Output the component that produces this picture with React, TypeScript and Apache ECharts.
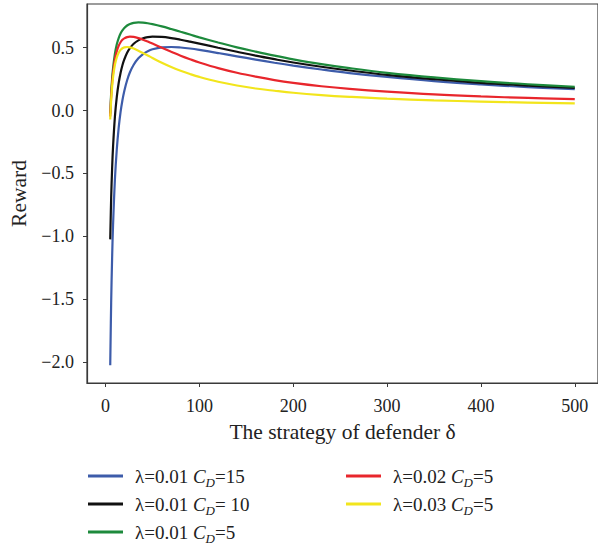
import React, { useEffect, useRef } from 'react';
import * as echarts from 'echarts';

const FONT = '"Liberation Serif", "Times New Roman", serif';
const TXT = '#222222';
const AX = '#3a3a3a';

// strategy of defender (x values)
const deltas = [5, 6, 7, 8, 10, 12, 14, 16, 18, 20, 23, 26, 30, 35, 40, 45, 50, 60, 70, 80, 90, 100, 120, 140, 160, 180, 200, 230, 260, 300, 350, 400, 450, 500];

// reward values
const blueL001CD15 = [-2.025, -1.529, -1.177, -0.914, -0.548, -0.308, -0.138, -0.013, 0.082, 0.156, 0.241, 0.304, 0.364, 0.415, 0.449, 0.472, 0.487, 0.502, 0.505, 0.501, 0.493, 0.482, 0.457, 0.431, 0.405, 0.38, 0.357, 0.326, 0.298, 0.267, 0.234, 0.208, 0.186, 0.169];
const blackL001CD10 = [-1.025, -0.696, -0.463, -0.289, -0.048, 0.109, 0.219, 0.299, 0.36, 0.406, 0.459, 0.496, 0.531, 0.558, 0.574, 0.583, 0.587, 0.585, 0.576, 0.563, 0.548, 0.532, 0.499, 0.467, 0.436, 0.408, 0.382, 0.348, 0.318, 0.283, 0.249, 0.22, 0.198, 0.179];
const greenL001CD5 = [-0.025, 0.137, 0.252, 0.336, 0.452, 0.526, 0.576, 0.612, 0.637, 0.656, 0.676, 0.688, 0.697, 0.701, 0.699, 0.694, 0.687, 0.669, 0.648, 0.626, 0.604, 0.582, 0.541, 0.502, 0.468, 0.436, 0.407, 0.369, 0.337, 0.3, 0.263, 0.233, 0.209, 0.189];
const redL002CD5 = [-0.048, 0.109, 0.219, 0.299, 0.406, 0.472, 0.515, 0.543, 0.562, 0.574, 0.584, 0.587, 0.585, 0.576, 0.563, 0.548, 0.532, 0.499, 0.467, 0.436, 0.408, 0.382, 0.337, 0.3, 0.269, 0.242, 0.22, 0.193, 0.172, 0.15, 0.128, 0.112, 0.1, 0.09];
const yellowL003CD5 = [-0.071, 0.082, 0.188, 0.264, 0.364, 0.423, 0.459, 0.482, 0.495, 0.502, 0.505, 0.502, 0.493, 0.476, 0.457, 0.438, 0.418, 0.38, 0.346, 0.316, 0.29, 0.267, 0.229, 0.199, 0.175, 0.157, 0.141, 0.123, 0.109, 0.094, 0.081, 0.071, 0.063, 0.057];

const lambdaLabels = ['0.01', '0.01', '0.01', '0.02', '0.03'];
const cdLabels = ['15', ' 10', '5', '5', '5'];
const seriesColors = ['#3d5caa', '#111111', '#1d8a3c', '#e8262c', '#f2e51c'];
const seriesValues = [blueL001CD15, blackL001CD10, greenL001CD5, redL002CD5, yellowL003CD5];

const xTicks = [0, 100, 200, 300, 400, 500];
const yTicks = [-2.0, -1.5, -1.0, -0.5, 0.0, 0.5];

const seriesNames = lambdaLabels.map((l, i) => `λ=${l} C_D=${cdLabels[i]}`);

export default function App() {
  const ref = useRef<HTMLDivElement>(null);
  useEffect(() => {
    const chart = echarts.init(ref.current!, null, { renderer: 'svg' });
    const rich = {
      a0: { fontFamily: FONT, fontSize: 19, color: TXT, lineHeight: 24, padding: [0, 0, 0, 7] },
      a: { fontFamily: FONT, fontSize: 19, color: TXT, lineHeight: 24 },
      c: { fontFamily: FONT, fontSize: 19, color: TXT, lineHeight: 24, fontStyle: 'italic' },
      d: { fontFamily: FONT, fontSize: 13, color: TXT, lineHeight: 13, fontStyle: 'italic', padding: [13, 0, 0, 0] },
    };
    const fmt = (name: string) => {
      const i = seriesNames.indexOf(name);
      return `{a0|λ=${lambdaLabels[i]} }{c|C}{d|D}{a|=${cdLabels[i]}}`;
    };
    const legendBase = {
      orient: 'vertical',
      icon: 'rect',
      itemWidth: 35,
      itemHeight: 3,
      itemGap: 2,
      padding: 0,
      selectedMode: false,
      formatter: fmt,
      textStyle: { rich },
    };
    chart.setOption({
      animation: false,
      backgroundColor: '#ffffff',
      grid: { left: 86, top: 4, width: 516, height: 379, show: true, borderColor: AX, borderWidth: 1.2 },
      xAxis: {
        type: 'value',
        min: -19.75,
        max: 524.75,
        splitLine: { show: false },
        axisLine: { show: true, onZero: false, lineStyle: { color: AX, width: 1.2 } },
        axisTick: { show: true, length: 4, customValues: xTicks, lineStyle: { color: AX, width: 1 } },
        axisLabel: { customValues: xTicks, fontFamily: FONT, fontSize: 18, color: TXT, margin: 14 },
        name: 'The strategy of defender δ',
        nameLocation: 'middle',
        nameGap: 38,
        nameTextStyle: { fontFamily: FONT, fontSize: 21.5, color: TXT },
      },
      yAxis: {
        type: 'value',
        min: -2.167,
        max: 0.847,
        splitLine: { show: false },
        axisLine: { show: true, onZero: false, lineStyle: { color: AX, width: 1.2 } },
        axisTick: { show: true, length: 4, customValues: yTicks, lineStyle: { color: AX, width: 1 } },
        axisLabel: {
          customValues: yTicks,
          fontFamily: FONT,
          fontSize: 18,
          color: TXT,
          margin: 13,
          formatter: (v: number) => v.toFixed(1).replace('-', '−'),
        },
        name: 'Reward',
        nameLocation: 'middle',
        nameGap: 57,
        nameTextStyle: { fontFamily: FONT, fontSize: 21.5, color: TXT },
      },
      legend: [
        { ...legendBase, left: 88, top: 463, data: seriesNames.slice(0, 3) },
        { ...legendBase, left: 346, top: 463, data: seriesNames.slice(3) },
      ],
      series: seriesValues.map((vals, i) => ({
        name: seriesNames[i],
        type: 'line',
        data: deltas.map((d, j) => [d, vals[j]]),
        showSymbol: false,
        smooth: 0.4,
        lineStyle: { color: seriesColors[i], width: 2.2 },
        itemStyle: { color: seriesColors[i] },
        z: 2 + i,
      })),
    });
    return () => chart.dispose();
  }, []);
  return (
    <div
      ref={ref}
      style={{ position: 'fixed', left: 0, top: 0, width: 598, height: 546, background: '#fff' }}
    />
  );
}
